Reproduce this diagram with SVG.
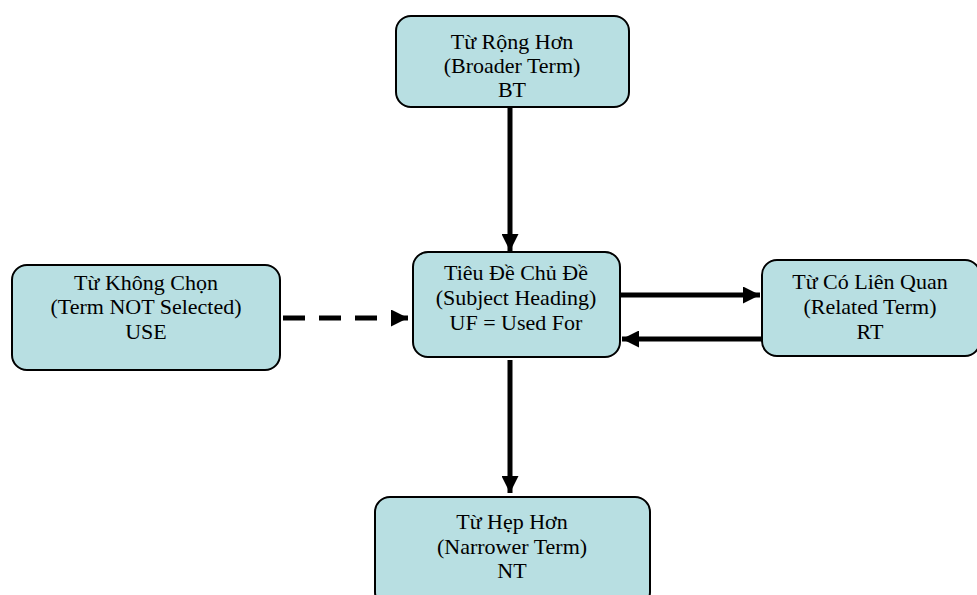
<svg xmlns="http://www.w3.org/2000/svg" width="977" height="595" viewBox="0 0 977 595">
<style>
.box{fill:#b8dfe2;stroke:#000;stroke-width:2}
text{font-family:'Liberation Serif','Times New Roman',Times,'DejaVu Serif',serif;font-size:22px;fill:#000;text-anchor:middle}
.c{stroke:#000;stroke-width:5;fill:none}
</style>
<defs>
<marker id="ah" markerWidth="3.4" markerHeight="3.4" refX="3.4" refY="1.7" orient="auto" markerUnits="strokeWidth">
<path d="M0,0 L3.4,1.7 L0,3.4 Z" fill="#000"/>
</marker>
</defs>
<rect width="977" height="595" fill="#fff"/>
<g id="connectors">
<line class="c" x1="510" y1="107" x2="510" y2="251" marker-end="url(#ah)"/>
<line class="c" x1="283" y1="318" x2="408" y2="318" stroke-dasharray="22 14" marker-end="url(#ah)"/>
<line class="c" x1="620" y1="295" x2="760" y2="295" marker-end="url(#ah)"/>
<line class="c" x1="763" y1="339" x2="622" y2="339" marker-end="url(#ah)"/>
<line class="c" x1="510" y1="360" x2="510" y2="493" marker-end="url(#ah)"/>
</g>
<g id="bt">
<rect class="box" x="396" y="16" width="233" height="91" rx="15"/>
<text x="512" y="49">Từ Rộng Hơn</text>
<text x="512" y="73">(Broader Term)</text>
<text x="512" y="97">BT</text>
</g>
<g id="use">
<rect class="box" x="12" y="265" width="268" height="105" rx="15"/>
<text x="146" y="290">Từ Không Chọn</text>
<text x="146" y="314">(Term NOT Selected)</text>
<text x="146" y="339">USE</text>
</g>
<g id="sh">
<rect class="box" x="413" y="252" width="207" height="105" rx="15"/>
<text x="516" y="280">Tiêu Đề Chủ Đề</text>
<text x="516" y="305">(Subject Heading)</text>
<text x="516" y="330">UF = Used For</text>
</g>
<g id="rt">
<rect class="box" x="762" y="260" width="218" height="96" rx="15"/>
<text x="870" y="289">Từ Có Liên Quan</text>
<text x="870" y="314">(Related Term)</text>
<text x="870" y="339">RT</text>
</g>
<g id="nt">
<rect class="box" x="375" y="497" width="275" height="110" rx="15"/>
<text x="512" y="529">Từ Hẹp Hơn</text>
<text x="512" y="554">(Narrower Term)</text>
<text x="512" y="578">NT</text>
</g>
</svg>
